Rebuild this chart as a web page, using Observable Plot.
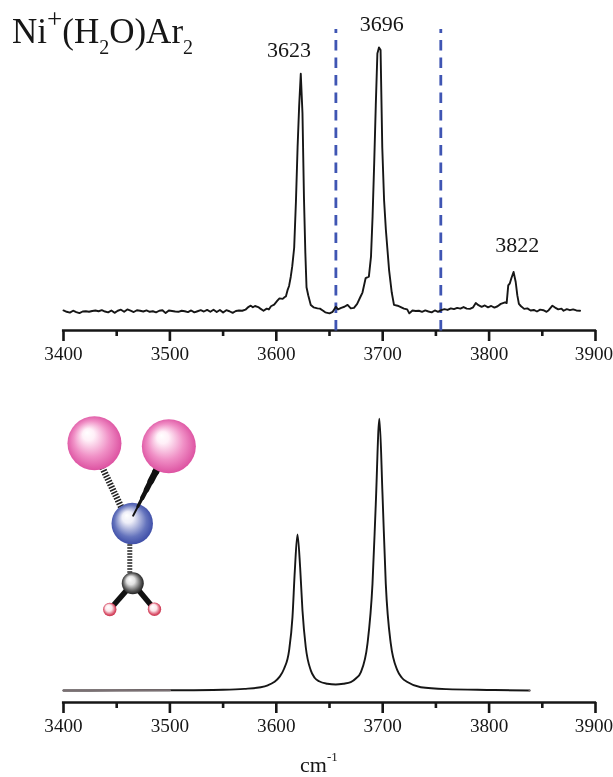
<!DOCTYPE html>
<html>
<head>
<meta charset="utf-8">
<script src="https://cdn.jsdelivr.net/npm/d3@7"></script>
<script src="https://cdn.jsdelivr.net/npm/@observablehq/plot@0.6"></script>
<style>
html,body{margin:0;padding:0;background:#fff;overflow:hidden}
#wrap{position:relative;width:613px;height:777px;font-family:"Liberation Serif",serif;color:#161616}
#wrap svg{position:absolute;left:0;filter:blur(0.5px);background:transparent}
.t{position:absolute;white-space:nowrap;line-height:1;filter:blur(0.5px)}
.t span{position:relative}
</style>
</head>
<body>
<div id="wrap">
  <div class="t" id="title" style="left:12px;top:14px;font-size:35px">Ni<span style="font-size:27px;top:-15px">+</span>(H<span style="font-size:20px;top:11px">2</span>O)Ar<span style="font-size:20px;top:11px">2</span></div>
  <div class="t" id="unit" style="left:300px;top:754px;font-size:22px">cm<span style="font-size:13px;top:-11px">-1</span></div>
</div>
<script>
const majorTicks = [3400, 3500, 3600, 3700, 3800, 3900];
const minorTicks = [3450, 3550, 3650, 3750, 3850];
const dashedPositions = [3656, 3754.6];
const peakLabels = [
  {x: 3612, y: 98.9, text: "3623"},
  {x: 3699, y: 109, text: "3696"},
  {x: 3826.4, y: 25.2, text: "3822"}
];
// Experimental spectrum: [wavenumber, intensity]
const experimental = [
[3400,.2],[3403,-.3],[3406,-.6],[3409,.1],[3412,-.4],[3415,-.8],[3418,-.2],[3421,-.1],[3424,-.3],[3427,0],
[3430,.2],[3433,-.1],[3436,.3],[3439,-.2],[3442,-.5],[3445,.2],[3448,-.7],[3451,.1],[3454,.5],[3457,-.3],
[3460,.6],[3463,.1],[3466,-.4],[3469,.3],[3472,.1],[3475,-.2],[3478,.2],[3481,-.3],[3484,-.1],[3487,-.5],
[3490,.1],[3493,.3],[3496,-.8],[3499,.2],[3502,0],[3505,-.2],[3508,-.3],[3511,.1],[3514,-.1],[3517,-.4],
[3520,.2],[3523,-.5],[3526,-.1],[3529,.3],[3532,-.2],[3535,.4],[3538,-.3],[3541,.5],[3544,-.4],[3547,.4],
[3550,-.6],[3553,.3],[3556,-.1],[3559,-.7],[3562,0],[3565,.2],[3568,.1],[3571,.5],[3574,1.6],[3576,2],
[3578,1.4],[3580,1.9],[3583,1.5],[3585,.9],[3588,.1],[3591,.9],[3593,.6],[3595,1.8],[3598,2.4],[3601,3.9],
[3603,4.8],[3606,4.6],[3608,5.3],[3609,5.5],[3610.5,7.8],[3612,9.5],[3613.6,13],[3615,17],[3616.8,24],[3618.5,42],
[3620,62],[3621.5,78],[3623,90],[3624.6,75],[3626,43],[3627.3,22],[3628.4,9],[3630,6],[3632.4,2.3],[3635,1.4],
[3638.7,1],[3641,.9],[3644,.1],[3646,-.5],[3648,-.7],[3650,-.9],[3653,-.3],[3656,1.6],[3658,.6],[3661,1.2],
[3664,1.6],[3667,2.3],[3670,1],[3673,1.2],[3676,2.7],[3679,5.3],[3681,7],[3684,12.5],[3687,13],[3689,20.6],
[3690.5,36],[3692,56],[3693.5,78],[3695,97.7],[3696.5,100],[3698,99],[3699.6,62],[3701.3,42],[3703,30.7],[3706,15.5],
[3708.5,7],[3710.6,2.3],[3714,2],[3717,1.5],[3720,.9],[3723,.6],[3725,-.9],[3728,.2],[3731,0],[3734,.1],
[3737,-.3],[3740,.2],[3743,-.2],[3746,-.5],[3749,.2],[3752,-.3],[3755,.3],[3758,.7],[3761,.4],[3764,1],
[3767,.7],[3770,1.2],[3773,.9],[3776,1.5],[3779,.9],[3782,.8],[3785,1.4],[3787.5,3],[3790,2.2],[3793,1.6],
[3796,2.1],[3799,1.4],[3802,1.9],[3805,1.3],[3808,1.8],[3811,2.7],[3815,3.3],[3816.5,3],[3818,9.7],[3819.5,10.5],
[3821,12.5],[3823,14.8],[3825,11],[3826.5,6],[3828,2.7],[3830,1.8],[3833,.8],[3836,1],[3839,.2],[3842,.4],
[3845,-.2],[3848,.5],[3851,.3],[3854,-.3],[3856,.3],[3859.5,2],[3862,1.3],[3865,.6],[3868,.9],[3870,.1],
[3873,.7],[3876,.3],[3879,.6],[3882,.2],[3885.5,.1]
];
// Calculated spectrum: [wavenumber, intensity]
const calculated = [
[3400,0],[3450,.05],[3500,.1],[3550,.3],[3570,.6],[3585.4,1.2],[3592,1.9],[3598,3.1],[3603,5],[3607.3,8],
[3612,14.7],[3615.2,27],[3617.4,44],[3619.9,57.4],[3622.4,45.3],[3624.6,29.4],[3627.7,15.9],[3632.4,7.4],[3636,4.7],[3640.2,3.4],
[3648,2.5],[3655.9,2.2],[3663,2.5],[3670,3.1],[3675,4.5],[3679.4,6.7],[3685.7,17.2],[3690.4,39.2],[3693.5,68.6],[3696.9,99.9],
[3699.8,72.3],[3702.9,39.2],[3707.6,17.2],[3713.8,7.4],[3718,4.7],[3723.2,3.1],[3735.8,1.2],[3760,.5],[3800,.2],[3838,0]
];
const lowGreyEnd = 3510;
const highGreyStart = 3820;
// Molecule inset, placed in the lower panel's data space
const argonAtoms = [{x: 3429.1, y: 90.9}, {x: 3499, y: 89.8}];
const nickelAtoms = [{x: 3464.6, y: 61.4}];
const oxygenAtoms = [{x: 3465.1, y: 39.4}];
const hydrogenAtoms = [{x: 3443.5, y: 29.8}, {x: 3485.5, y: 29.9}];
const hatchedBonds = [
  {x1: 3434, y1: 84, x2: 3456, y2: 66, w: 6.5},
  {x1: 3462.3, y1: 56, x2: 3462.3, y2: 42, w: 5}
];
const solidBonds = [
  {x1: 3465.1, y1: 39.4, x2: 3443.5, y2: 29.8, w: 5.5},
  {x1: 3465.1, y1: 39.4, x2: 3485.5, y2: 29.9, w: 5.5}
];
const wedgeBond = [
  {x1: 3492, y1: 84.5, x2: 3486.5, y2: 80.3, w: 7},
  {x1: 3486.5, y1: 80.3, x2: 3482, y2: 76.9, w: 6.5},
  {x1: 3482, y1: 76.9, x2: 3478, y2: 73.8, w: 5.5},
  {x1: 3478, y1: 73.8, x2: 3474, y2: 70.8, w: 4.5},
  {x1: 3474, y1: 70.8, x2: 3470, y2: 67.7, w: 3.2},
  {x1: 3470, y1: 67.7, x2: 3465.5, y2: 64.3, w: 2}
];

const INK = "#161616";
const xScale = {domain: [3400, 3900], axis: null};
const fontFamily = '"Liberation Serif", serif';
const labelOptions = {anchor: "bottom", tickSize: 0, tickPadding: 16, fill: INK, fontSize: 19.2,
  tickFormat: d => String(d), label: null, fontFamily};

// y0 is the axis position in y-units; unit is the number of y-units per tick-length unit
function axes(y0, unit) {
  return [
    Plot.ruleY([y0], {x1: 3399, x2: 3901, stroke: INK, strokeWidth: 2.4}),
    Plot.ruleX(majorTicks, {y1: y0, y2: y0 - 11 / unit, stroke: INK, strokeWidth: 2.6}),
    Plot.ruleX(minorTicks, {y1: y0, y2: y0 - 6 / unit, stroke: INK, strokeWidth: 2.6}),
    Plot.axisX(majorTicks.filter(d => d < 3900), labelOptions),
    Plot.axisX(majorTicks.filter(d => d >= 3900), {...labelOptions, dx: -1.5})
  ];
}

function gradient(id, stops) {
  return () => {
    const defs = d3.create("svg:defs");
    const g = defs.append("radialGradient").attr("id", id)
      .attr("cx", "0.5").attr("cy", "0.5").attr("r", "0.55").attr("fx", "0.36").attr("fy", "0.3");
    stops.forEach(([o, c]) => g.append("stop").attr("offset", o).attr("stop-color", c));
    return defs.node();
  };
}

const upperPlot = Plot.plot({
  width: 613, height: 377, marginLeft: 63, marginRight: 18, marginTop: 20, marginBottom: 47,
  x: xScale,
  y: {domain: [-7.4, 110.2], axis: null},
  marks: [
    ...axes(-7.4, 2.635),
    Plot.ruleX(dashedPositions, {y1: 106.8, y2: -9.7, stroke: "#3f55b3", strokeWidth: 2.8, strokeDasharray: "10.5,7", strokeDashoffset: 6.5}),
    Plot.line(experimental, {x: d => d[0], y: d => d[1], stroke: INK, strokeWidth: 1.9}),
    Plot.text(peakLabels, {x: "x", y: "y", text: "text", fontSize: 22, fill: INK, fontFamily})
  ]
});
upperPlot.style.top = "0px";

const lowerPlot = Plot.plot({
  width: 613, height: 400, marginLeft: 63, marginRight: 18, marginTop: 13, marginBottom: 75,
  x: xScale,
  y: {domain: [-4.41, 110.3], axis: null},
  marks: [
    gradient("argonGrad", [[0, "#ffffff"], [0.2, "#fff0f8"], [0.6, "#f090c6"], [1, "#d9469a"]]),
    gradient("nickelGrad", [[0, "#ffffff"], [0.25, "#eeeef8"], [0.7, "#6574bd"], [1, "#3444a2"]]),
    gradient("oxygenGrad", [[0, "#ffffff"], [0.35, "#e2e2e2"], [0.75, "#555555"], [1, "#0e0e0e"]]),
    gradient("hydrogenGrad", [[0, "#ffffff"], [0.45, "#fbe6ea"], [0.8, "#d9516a"], [1, "#c42a44"]]),
    ...axes(-4.41, 2.72),
    Plot.line(calculated, {x: d => d[0], y: d => d[1], stroke: INK, strokeWidth: 1.9, curve: "monotone-x"}),
    Plot.line(calculated.filter(d => d[0] <= lowGreyEnd), {x: d => d[0], y: d => d[1], stroke: "#7a6f72", strokeWidth: 2.2}),
    Plot.line(calculated.filter(d => d[0] >= highGreyStart), {x: d => d[0], y: d => d[1], stroke: "#7a6f72", strokeWidth: 2.2}),
    Plot.link(hatchedBonds, {x1: "x1", y1: "y1", x2: "x2", y2: "y2", stroke: "#222", strokeWidth: "w", strokeDasharray: "1.6,1.4"}),
    Plot.link(solidBonds, {x1: "x1", y1: "y1", x2: "x2", y2: "y2", stroke: "#111", strokeWidth: "w"}),
    Plot.dot(nickelAtoms, {x: "x", y: "y", r: 20.7, fill: "url(#nickelGrad)"}),
    Plot.dot(oxygenAtoms, {x: "x", y: "y", r: 11, fill: "url(#oxygenGrad)"}),
    Plot.dot(hydrogenAtoms, {x: "x", y: "y", r: 6.7, fill: "url(#hydrogenGrad)"}),
    Plot.link(wedgeBond, {x1: "x1", y1: "y1", x2: "x2", y2: "y2", stroke: "#111", strokeWidth: "w", strokeLinecap: "round"}),
    Plot.dot(argonAtoms, {x: "x", y: "y", r: 27, fill: "url(#argonGrad)"})
  ]
});
lowerPlot.style.top = "377px";

const wrap = document.getElementById("wrap");
wrap.prepend(lowerPlot);
wrap.prepend(upperPlot);
</script>
</body>
</html>
